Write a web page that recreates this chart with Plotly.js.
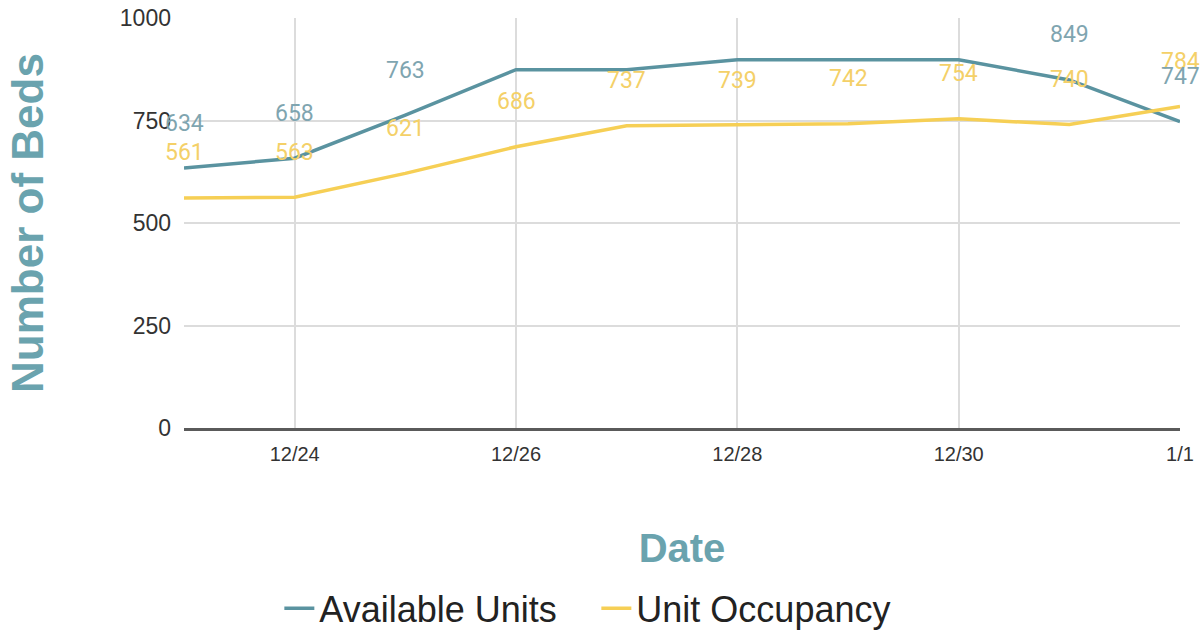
<!DOCTYPE html>
<html>
<head>
<meta charset="utf-8">
<script src="https://cdn.plot.ly/plotly-3.0.1.min.js"></script>
<style>html,body{margin:0;padding:0;background:#fff;}#chart{width:1202px;height:633px;}</style>
</head>
<body>
<div id="chart"></div>
<script>
const dates = ['12/23','12/24','12/25','12/26','12/27','12/28','12/29','12/30','12/31','1/1'];
const tickLabels = ['12/24','12/26','12/28','12/30','1/1'];
const availableUnits = [634, 658, 763, 874, 874, 898, 898, 898, 849, 747];
const unitOccupancy = [561, 563, 621, 686, 737, 739, 742, 754, 740, 784];
const availableLabelShown = [true, true, true, false, false, false, false, false, true, true];
const occupancyLabelShown = [true, true, true, true, true, true, true, true, true, true];
const yTicks = [0, 250, 500, 750, 1000];

const tealLine = '#5a93a0';
const tealText = '#7fa5b0';
const yellowLine = '#f6cf55';
const yellowText = '#f4d068';

const traces = [
  {x: dates, y: availableUnits, type: 'scatter', mode: 'lines', name: 'Available Units',
   line: {color: tealLine, width: 3.5}, hoverinfo: 'x+y'},
  {x: dates, y: unitOccupancy, type: 'scatter', mode: 'lines', name: 'Unit Occupancy',
   line: {color: yellowLine, width: 3.5}, hoverinfo: 'x+y'}
];

const annotations = [];
dates.forEach((d, i) => {
  if (occupancyLabelShown[i]) annotations.push({x: d, y: unitOccupancy[i], text: String(unitOccupancy[i]),
    showarrow: false, yshift: 45, font: {family: 'Roboto, Arial, sans-serif', size: 23, color: yellowText}});
  if (availableLabelShown[i]) annotations.push({x: d, y: availableUnits[i], text: String(availableUnits[i]),
    showarrow: false, yshift: 45, font: {family: 'Roboto, Arial, sans-serif', size: 23, color: tealText}});
});

const layout = {
  width: 1202, height: 633,
  margin: {l: 184, r: 22, t: 18, b: 205, autoexpand: false},
  paper_bgcolor: '#fff', plot_bgcolor: '#fff',
  showlegend: true,
  font: {family: 'Arial, Liberation Sans, sans-serif'},
  xaxis: {
    type: 'category', range: [0, 9], tickvals: tickLabels, ticktext: tickLabels,
    showgrid: true, gridcolor: '#dcdcdc', gridwidth: 2,
    showline: true, linecolor: '#5a5a5a', linewidth: 3,
    ticks: '', tickfont: {size: 20, color: '#333'}, ticklabelstandoff: 6,
    title: {text: 'Date', font: {size: 40, color: '#6aa3ae', weight: 'bold'}, standoff: 70},
    zeroline: false, fixedrange: true, automargin: false
  },
  yaxis: {
    range: [0, 1000], tickvals: yTicks,
    showgrid: true, gridcolor: '#dcdcdc', gridwidth: 2,
    showline: false, zeroline: false, ticks: '', ticklen: 0,
    tickfont: {size: 23, color: '#333'}, ticklabelstandoff: 12,
    title: {text: 'Number of Beds', font: {size: 44, color: '#6aa3ae', weight: 'bold'}, standoff: 62},
    fixedrange: true, automargin: false
  },
  legend: {orientation: 'h', x: 0.414, xanchor: 'center', y: -0.44, yanchor: 'middle',
    font: {size: 36, color: '#222'}, itemwidth: 30, entrywidth: 272, tracegroupgap: 0},
  annotations: annotations
};

Plotly.newPlot('chart', traces, layout, {displayModeBar: false, staticPlot: true});
</script>
</body>
</html>
